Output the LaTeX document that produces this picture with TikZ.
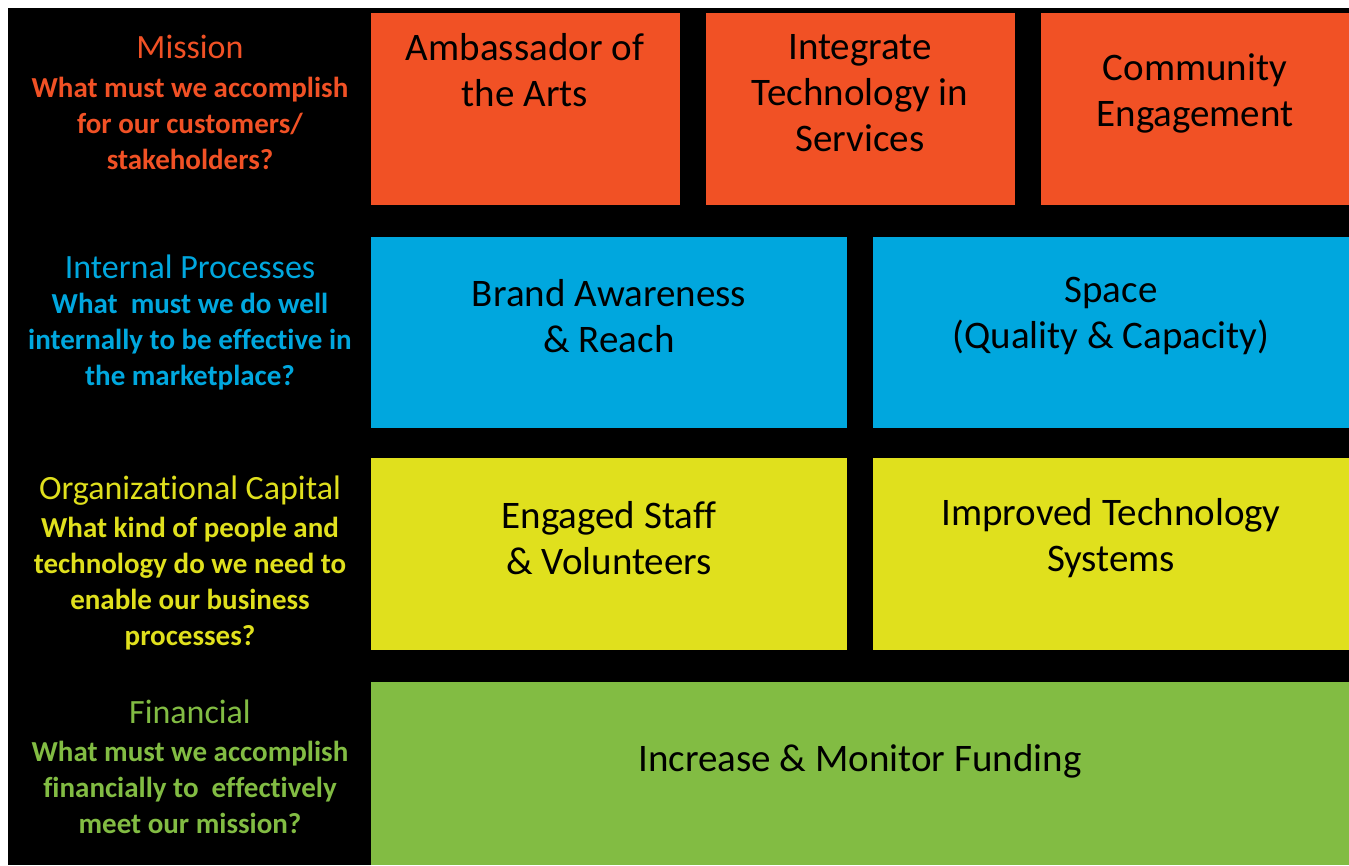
\documentclass[tikz,border=0pt]{standalone}
\usepackage{fontspec}
\setmainfont{Carlito}[Ligatures=NoCommon]
\usetikzlibrary{positioning}

\definecolor{missionOrange}{RGB}{241,81,37}
\definecolor{processBlue}{RGB}{0,167,222}
\definecolor{capitalYellow}{RGB}{224,224,29}
\definecolor{financeGreen}{RGB}{130,188,67}

\begin{document}
\begin{tikzpicture}[
    x=1pt, y=-1pt,
    tile/.style={rectangle, anchor=north west, inner sep=0pt, outer sep=0pt},
    tiletext/.style={align=center, inner sep=0pt, text=black,
                     font=\fontsize{39}{46}\selectfont},
    persp/.style={align=center, inner sep=0pt,
                  font=\fontsize{34}{37}\selectfont},
    question/.style={align=center, inner sep=0pt,
                     font=\bfseries\fontsize{29}{36}\selectfont},
]
\useasboundingbox (0,0) rectangle (1349,865);

% black backdrop
\fill[black] (8,8) rectangle (1349,865);

% ---------------------------------------------------------------
%  Mission row
% ---------------------------------------------------------------
\node[persp, text=missionOrange] (misT) at (190,47) {Mission};
\node[question, text=missionOrange] (misQ) at (190,123)
    {What must we accomplish\\for our customers/\\stakeholders?};

\node[tile, fill=missionOrange, minimum width=309pt, minimum height=192pt]
    (amb) at (371,13) {};
\node[tile, fill=missionOrange, minimum width=309pt, minimum height=192pt]
    (itech) at (706,13) {};
\node[tile, fill=missionOrange, minimum width=308pt, minimum height=192pt]
    (comm) at (1041,13) {};

\node[tiletext] (ambT) at (525,70) {Ambassador of\\the Arts};
\node[tiletext] (itechT) at (860,93) {Integrate\\Technology in\\Services};
\node[tiletext] (commT) at (1195,93) {Community\\Engagement};

% ---------------------------------------------------------------
%  Internal processes row
% ---------------------------------------------------------------
\node[persp, text=processBlue] (proT) at (190,267) {Internal Processes};
\node[question, text=processBlue] (proQ) at (190,342)
    {What\ \ must we do well\\internally to be effective in\\the marketplace?};

\node[tile, fill=processBlue, minimum width=476pt, minimum height=191pt]
    (brand) at (371,237) {};
\node[tile, fill=processBlue, minimum width=476pt, minimum height=191pt]
    (space) at (873,237) {};

\node[tiletext] (brandT) at (609,316) {Brand Awareness\\\& Reach};
\node[tiletext] (spaceT) at (1111,316) {Space\\(Quality \& Capacity)};

% ---------------------------------------------------------------
%  Organizational capital row
% ---------------------------------------------------------------
\node[persp, text=capitalYellow] (capT) at (190,491) {Organizational Capital};
\node[question, text=capitalYellow] (capQ) at (190,584)
    {What kind of people and\\technology do we need to\\enable our business\\processes?};

\node[tile, fill=capitalYellow, minimum width=476pt, minimum height=192pt]
    (staff) at (371,458) {};
\node[tile, fill=capitalYellow, minimum width=476pt, minimum height=192pt]
    (systems) at (873,458) {};

\node[tiletext] (staffT) at (609,538) {Engaged Staff\\\& Volunteers};
\node[tiletext] (systemsT) at (1111,538) {Improved Technology\\Systems};

% ---------------------------------------------------------------
%  Financial row
% ---------------------------------------------------------------
\node[persp, text=financeGreen] (finT) at (190,712) {Financial};
\node[question, text=financeGreen] (finQ) at (190,787)
    {What must we accomplish\\financially to\ \ effectively\\meet our mission?};

\node[tile, fill=financeGreen, minimum width=978pt, minimum height=183pt]
    (fund) at (371,682) {};

\node[tiletext] (fundT) at (860,761) {Increase \& Monitor Funding};

\end{tikzpicture}
\end{document}
